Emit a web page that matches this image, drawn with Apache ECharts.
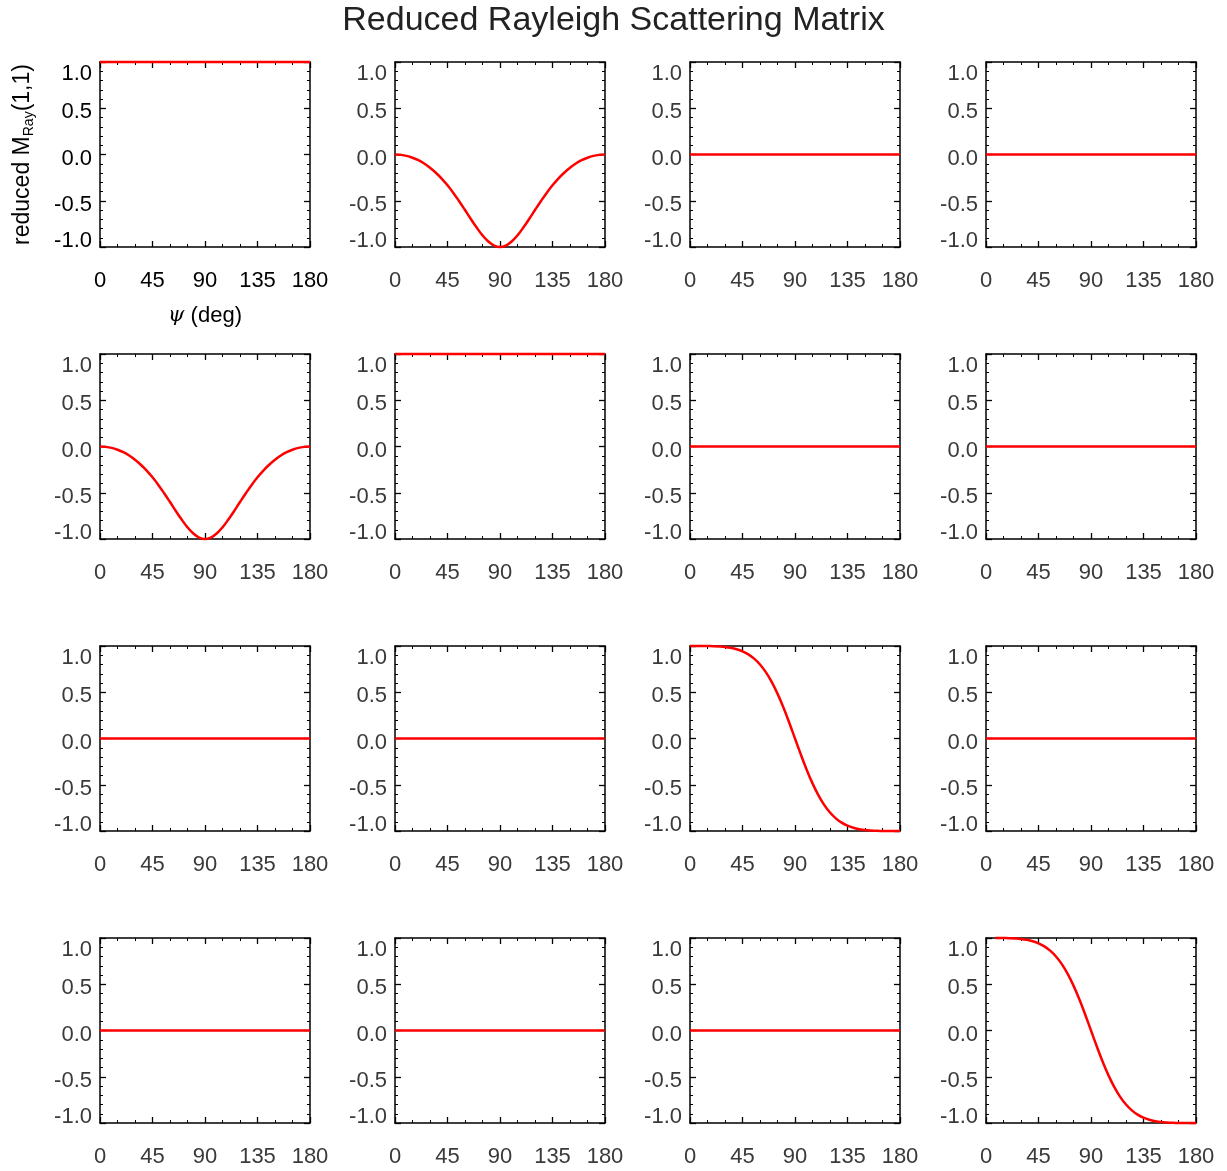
<!DOCTYPE html>
<html>
<head>
<meta charset="utf-8">
<script src="https://cdn.jsdelivr.net/npm/echarts/dist/echarts.min.js"></script>
<style>html,body{margin:0;padding:0;background:#fff}#c{width:1227px;height:1171px}</style>
</head>
<body>
<div id="c"></div>
<script>
// ---- data ----
const psi = [0,5,10,15,20,25,30,35,40,45,50,55,60,65,70,75,80,85,90,95,100,105,110,115,120,125,130,135,140,145,150,155,160,165,170,175,180];
const m11 = [1,1,1,1,1,1,1,1,1,1,1,1,1,1,1,1,1,1,1,1,1,1,1,1,1,1,1,1,1,1,1,1,1,1,1,1,1];
const m22 = [1,1,1,1,1,1,1,1,1,1,1,1,1,1,1,1,1,1,1,1,1,1,1,1,1,1,1,1,1,1,1,1,1,1,1,1,1];
const m12 = [0,-0.004,-0.015,-0.035,-0.062,-0.098,-0.143,-0.197,-0.260,-0.333,-0.415,-0.505,-0.600,-0.697,-0.790,-0.874,-0.941,-0.985,-1.000,-0.985,-0.941,-0.874,-0.790,-0.697,-0.600,-0.505,-0.415,-0.333,-0.260,-0.197,-0.143,-0.098,-0.062,-0.035,-0.015,-0.004,0];
const m21 = [0,-0.004,-0.015,-0.035,-0.062,-0.098,-0.143,-0.197,-0.260,-0.333,-0.415,-0.505,-0.600,-0.697,-0.790,-0.874,-0.941,-0.985,-1.000,-0.985,-0.941,-0.874,-0.790,-0.697,-0.600,-0.505,-0.415,-0.333,-0.260,-0.197,-0.143,-0.098,-0.062,-0.035,-0.015,-0.004,0];
const m33 = [1.000,1.000,1.000,0.999,0.998,0.995,0.990,0.980,0.965,0.943,0.910,0.863,0.800,0.717,0.612,0.485,0.337,0.173,0.000,-0.173,-0.337,-0.485,-0.612,-0.717,-0.800,-0.863,-0.910,-0.943,-0.965,-0.980,-0.990,-0.995,-0.998,-0.999,-1.000,-1.000,-1.000];
const psi44 = [8,10,15,20,25,30,35,40,45,50,55,60,65,70,75,80,85,90,95,100,105,110,115,120,125,130,135,140,145,150,155,160,165,170,175,180];
const m44 = [1.000,1.000,0.999,0.998,0.995,0.990,0.980,0.965,0.943,0.910,0.863,0.800,0.717,0.612,0.485,0.337,0.173,0.000,-0.173,-0.337,-0.485,-0.612,-0.717,-0.800,-0.863,-0.910,-0.943,-0.965,-0.980,-0.990,-0.995,-0.998,-0.999,-1.000,-1.000,-1.000];
const zero = [0,0,0,0,0,0,0,0,0,0,0,0,0,0,0,0,0,0,0,0,0,0,0,0,0,0,0,0,0,0,0,0,0,0,0,0,0];
const xTicks = [0,45,90,135,180];
const yTicks = [-1.0,-0.5,0.0,0.5,1.0];
const titleText = 'Reduced Rayleigh Scattering Matrix';

// panel grid: [x values, y values]
const panels = [
  [[psi,m11],[psi,m12],[psi,zero],[psi,zero]],
  [[psi,m21],[psi,m22],[psi,zero],[psi,zero]],
  [[psi,zero],[psi,zero],[psi,m33],[psi,zero]],
  [[psi,zero],[psi,zero],[psi,zero],[psi44,m44]]
];

// ---- layout ----
const rowTop = [62, 354, 646, 938];
const colLeft = [100, 395, 690, 986];
const W = 210, H = 185;
const FONT = 'Liberation Sans, Arial, Helvetica, sans-serif';

const grid = [], xAxis = [], yAxis = [], series = [];
const axisLine = {show:true, onZero:false, lineStyle:{color:'#000', width:1.5}};
const tick = {show:true, inside:true, length:6, lineStyle:{color:'#000', width:1.3}};

for (let r = 0; r < 4; r++) {
  for (let c = 0; c < 4; c++) {
    const i = r*4 + c;
    const col = (i === 0) ? '#000' : '#3a3a3a';
    grid.push({left: colLeft[c], top: rowTop[r], width: W, height: H, containLabel:false});
    const xb = {
      type:'value', gridIndex:i, position:'bottom', min:xTicks[0], max:xTicks[xTicks.length-1], interval:45,
      axisLine, axisTick:tick,
      minorTick:{show:true, splitNumber:3, length:3, lineStyle:{color:'#000', width:1}},
      splitLine:{show:false}, minorSplitLine:{show:false},
      axisLabel:{show:true, margin:23, fontSize:22, color:col, fontFamily:FONT, showMinLabel:true, showMaxLabel:true}
    };
    if (i === 0) {
      xb.name = '{i|ψ} (deg)';
      xb.nameLocation = 'middle';
      xb.nameGap = 58;
      xb.nameTextStyle = {fontSize:22, color:'#000', fontFamily:FONT,
        rich:{i:{fontFamily:'DejaVu Serif, serif', fontStyle:'italic', fontSize:21, color:'#000'}}};
    }
    xAxis.push(xb);
    xAxis.push({
      type:'value', gridIndex:i, position:'top', min:0, max:180, interval:45,
      axisLine, axisTick:tick,
      minorTick:{show:true, splitNumber:3, length:3, lineStyle:{color:'#000', width:1}},
      splitLine:{show:false}, axisLabel:{show:false}
    });
    const richBase = {fontSize:22, color:col, fontFamily:FONT};
    const yl = {
      type:'value', gridIndex:i, position:'left', min:-1, max:1, interval:0.5,
      axisLine, axisTick:tick,
      minorTick:{show:true, splitNumber:5, length:3, lineStyle:{color:'#000', width:1}},
      splitLine:{show:false}, minorSplitLine:{show:false},
      axisLabel:{show:true, margin:8, fontSize:22, color:col, fontFamily:FONT, showMinLabel:true, showMaxLabel:true,
        formatter:function(v){
          const s = (Math.abs(v) < 1e-9 ? 0 : v).toFixed(1);
          if (v >= 0.999) return '{t|' + s + '}';
          if (v <= -0.999) return '{b|' + s + '}';
          return '{m|' + s + '}';
        },
        rich:{
          t:Object.assign({padding:[24,0,0,0]}, richBase),
          b:Object.assign({padding:[0,0,12,0]}, richBase),
          m:Object.assign({padding:[8,0,0,0]}, richBase)
        }
      }
    };
    if (i === 0) {
      yl.name = '{a|reduced M}{s|Ray}{a|(1,1)}';
      yl.nameLocation = 'middle';
      yl.nameRotate = 90;
      yl.nameGap = 64;
      yl.nameTextStyle = {fontSize:23, color:'#000', fontFamily:FONT,
        rich:{a:{fontSize:23, color:'#000', fontFamily:FONT},
              s:{fontSize:14, color:'#000', fontFamily:FONT, padding:[12,0,0,0]}}};
    }
    yAxis.push(yl);
    yAxis.push({
      type:'value', gridIndex:i, position:'right', min:-1, max:1, interval:0.5,
      axisLine, axisTick:tick,
      minorTick:{show:true, splitNumber:5, length:3, lineStyle:{color:'#000', width:1}},
      splitLine:{show:false}, axisLabel:{show:false}
    });
    const [xs, ys] = panels[r][c];
    series.push({
      type:'line', xAxisIndex:2*i, yAxisIndex:2*i,
      data: xs.map((x,k) => [x, ys[k]]),
      showSymbol:false, symbol:'none', smooth:0.4, clip:false, z:10,
      lineStyle:{color:'#ff0000', width:2.5}, silent:true
    });
  }
}

const chart = echarts.init(document.getElementById('c'), null, {renderer:'canvas'});
chart.setOption({
  animation:false,
  backgroundColor:'#fff',
  title:{text:titleText, left:'center', top:4, padding:0,
    textStyle:{fontSize:34, fontWeight:'normal', color:'#222', fontFamily:FONT}},
  grid, xAxis, yAxis, series
});
</script>
</body>
</html>
